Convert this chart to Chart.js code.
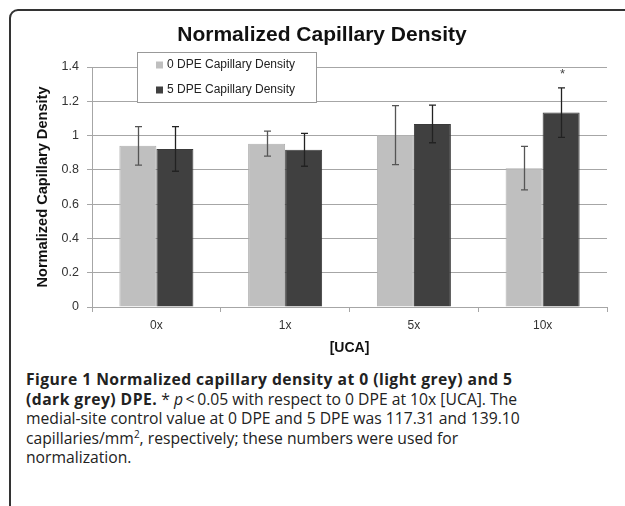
<!DOCTYPE html>
<html>
<head>
<meta charset="utf-8">
<script src="https://cdn.jsdelivr.net/npm/chart.js@4.4.0/dist/chart.umd.min.js"></script>
<style>
  html, body { margin: 0; padding: 0; background: #fff; }
  #wrap { position: relative; width: 625px; height: 506px; overflow: hidden; }
  #frame {
    position: absolute; left: 9px; top: 9px; width: 640px; height: 520px;
    border: 2px solid #333; border-radius: 9px; box-sizing: border-box;
  }
  #chartBox { position: absolute; left: 0; top: 0; width: 625px; height: 360px; }
  #caption {
    position: absolute; left: 26px; top: 370px; width: 595px; white-space: nowrap;
    font-family: "Open Sans", sans-serif; font-size: 15.7px; line-height: 19.5px; color: #222;
  }
  #caption b { font-weight: 700; letter-spacing: 0.45px; }
</style>
</head>
<body>
<div id="wrap">
  <div id="frame"></div>
  <div id="chartBox"><canvas id="myChart" width="625" height="360"></canvas></div>
  <div id="caption">
    <b>Figure 1 Normalized capillary density at 0 (light grey) and 5<br>(dark grey) DPE.</b> * <i>p</i>&thinsp;&lt;&thinsp;0.05 with respect to 0 DPE at 10x [UCA]. The<br>medial-site control value at 0 DPE and 5 DPE was 117.31 and 139.10<br>capillaries/mm<sup style="font-size:10px;line-height:0">2</sup>, respectively; these numbers were used for<br>normalization.
  </div>
</div>
<script>
'use strict';
// data
const categories = ['0x', '1x', '5x', '10x'];
const dpe0 = [0.94, 0.953, 1.003, 0.81];
const dpe5 = [0.922, 0.917, 1.068, 1.134];
const err0 = [0.112, 0.073, 0.172, 0.127];
const err5 = [0.13, 0.096, 0.11, 0.144];
const yTicks = [0, 0.2, 0.4, 0.6, 0.8, 1, 1.2, 1.4];
const starred = [null, null, null, '*']; // marks over 5 DPE bars

const labelFont = 'Liberation Sans, Arial, sans-serif';

//Error bars + significance mark
const errorBars = {
    id: 'errorBars',
    afterDatasetsDraw(chart) {
        const ctx = chart.ctx;
        const y = chart.scales.y;
        const errs = [err0, err5];
        ctx.save();
        chart.data.datasets.forEach((ds, i) => {
            const meta = chart.getDatasetMeta(i);
            meta.data.forEach((bar, j) => {
                const v = ds.data[j];
                const top = y.getPixelForValue(v + errs[i][j]);
                const bot = y.getPixelForValue(v - errs[i][j]);
                const x = Math.round(bar.x) + 0.5;
                ctx.strokeStyle = i === 0 ? '#555' : '#222';
                ctx.lineWidth = 1.3;
                ctx.beginPath();
                ctx.moveTo(x, top);
                ctx.lineTo(x, bot);
                ctx.moveTo(x - 3.5, top);
                ctx.lineTo(x + 3.5, top);
                ctx.moveTo(x - 3.5, bot);
                ctx.lineTo(x + 3.5, bot);
                ctx.stroke();
                if (i === 1 && starred[j]) {
                    ctx.fillStyle = '#444';
                    ctx.font = '13px ' + labelFont;
                    ctx.textAlign = 'center';
                    ctx.textBaseline = 'middle';
                    ctx.fillText(starred[j], x + 1, top - 13);
                }
            });
        });
        ctx.restore();
    }
};

//Chart title and boxed legend
const decorations = {
    id: 'decorations',
    afterDraw(chart) {
        const ctx = chart.ctx;
        ctx.save();
        ctx.fillStyle = '#111';
        ctx.font = 'bold 21px ' + labelFont;
        ctx.textAlign = 'center';
        ctx.textBaseline = 'middle';
        ctx.fillText('Normalized Capillary Density', 322, 35);

        const lx = 137, ly = 52, lw = 179, lh = 50;
        ctx.fillStyle = '#fff';
        ctx.fillRect(lx, ly, lw, lh);
        ctx.strokeStyle = '#999';
        ctx.lineWidth = 1;
        ctx.strokeRect(lx + 0.5, ly + 0.5, lw, lh);
        ctx.font = '12px ' + labelFont;
        ctx.textAlign = 'left';
        chart.data.datasets.forEach((ds, i) => {
            const cy = ly + 13 + i * 25;
            ctx.fillStyle = ds.backgroundColor;
            ctx.fillRect(lx + 19, cy - 3.5, 7, 7);
            ctx.fillStyle = '#222';
            ctx.fillText(ds.label, lx + 30, cy);
        });
        ctx.restore();
    }
};

const config = {
    type: 'bar',
    data: {
        labels: categories,
        datasets: [
            {
                label: '0 DPE Capillary Density',
                data: dpe0,
                backgroundColor: '#bfbfbf',
                borderColor: '#b0b0b0',
                borderWidth: 1,
                categoryPercentage: 0.575,
                barPercentage: 1,
            },
            {
                label: '5 DPE Capillary Density',
                data: dpe5,
                backgroundColor: '#404040',
                borderColor: '#3a3a3a',
                borderWidth: 1,
                categoryPercentage: 0.575,
                barPercentage: 1,
            },
        ],
    },
    options: {
        responsive: false,
        animation: false,
        layout: { padding: { left: 0, right: 18, top: 67, bottom: 0 } },
        plugins: {
            legend: { display: false },
            tooltip: { enabled: false },
        },
        scales: {
            x: {
                afterFit(scale) { scale.height = 53; },
                grid: {
                    offset: true,
                    drawOnChartArea: false,
                    drawTicks: true,
                    tickLength: 5,
                    color: '#a6a6a6',
                },
                border: { color: '#a6a6a6', width: 1 },
                ticks: {
                    color: '#333',
                    font: { family: labelFont, size: 12 },
                    padding: 6,
                },
                title: {
                    display: true,
                    text: '[UCA]',
                    color: '#111',
                    font: { family: labelFont, size: 14, weight: 'bold' },
                    padding: { top: 0, bottom: 3 },
                },
            },
            y: {
                min: 0,
                max: 1.4,
                afterFit(scale) { scale.width = 92; },
                afterBuildTicks(scale) {
                    scale.ticks = yTicks.map((v) => ({ value: v }));
                },
                grid: {
                    color: '#a6a6a6',
                    tickLength: 5,
                },
                border: { color: '#a6a6a6', width: 1 },
                ticks: {
                    color: '#333',
                    font: { family: labelFont, size: 12.5 },
                    padding: 8,
                    callback: (v) => String(Math.round(v * 10) / 10),
                },
                title: {
                    display: true,
                    text: 'Normalized Capillary Density',
                    color: '#111',
                    font: { family: labelFont, size: 14.6, weight: 'bold' },
                    padding: { top: 34, bottom: 0 },
                },
            },
        },
    },
    plugins: [errorBars, decorations],
};

const myChart = new Chart(document.getElementById('myChart'), config);
</script>
</body>
</html>
